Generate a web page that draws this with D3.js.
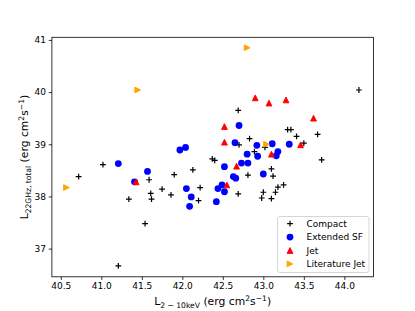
<!DOCTYPE html>
<html>
<head>
<meta charset="utf-8">
<script src="https://cdn.jsdelivr.net/npm/d3@7"></script>
<style>
  html, body { margin: 0; padding: 0; background: #fff; }
  text { font-family: "DejaVu Sans", sans-serif; }
</style>
</head>
<body>
<div id="chart"></div>
<script>
// Values
const compactX = [40.72, 41.02, 41.21, 41.34, 41.54, 41.59, 41.61, 41.62, 41.75, 41.86,
  41.90, 42.13, 42.22, 42.20, 42.37, 42.40, 42.69, 42.70, 42.69, 42.81,
  42.83, 42.89, 43.02, 42.98, 43.00, 43.10, 43.12, 43.10, 43.15, 43.18,
  43.25, 43.30, 43.34, 43.41, 43.50, 43.67, 43.72, 44.18];
const compactY = [38.38, 38.61, 36.67, 37.95, 37.48, 38.32, 38.06, 37.95, 38.14, 38.03,
  38.42, 38.51, 38.17, 37.92, 38.72, 38.69, 39.65, 38.99, 38.05, 38.41,
  39.11, 38.86, 38.94, 37.97, 38.08, 38.53, 38.39, 37.96, 38.08, 38.18,
  38.22, 39.28, 39.28, 39.15, 39.02, 39.19, 38.70, 40.04];

const extX = [41.21, 41.57, 41.41, 41.97, 42.04, 42.05, 42.11, 42.09, 42.42, 42.44,
  42.49, 42.52, 42.52, 42.63, 42.66, 42.73, 42.81, 43.00, 42.65, 42.70,
  42.80, 42.92, 42.93, 43.11, 43.18, 43.16, 43.32];
const extY = [38.63, 38.48, 38.28, 38.89, 38.94, 38.15, 37.99, 37.81, 37.90, 38.15,
  38.22, 38.09, 38.57, 38.38, 38.35, 38.64, 38.64, 38.43, 39.03, 39.36,
  38.81, 38.98, 38.77, 39.01, 38.86, 38.78, 39.00];

const jetX = [42.90, 43.07, 43.28, 43.62, 42.52, 42.52, 43.46, 43.10, 42.67, 42.55, 41.43];
const jetY = [39.89, 39.79, 39.85, 39.50, 39.34, 39.04, 38.99, 38.81, 38.58, 38.22, 38.28];

const litX = [40.57, 41.45, 42.80, 43.04];
const litY = [38.17, 40.04, 40.85, 39.00];

const xTicks = [40.5, 41.0, 41.5, 42.0, 42.5, 43.0, 43.5, 44.0];
const yTicks = [37, 38, 39, 40, 41];
const seriesNames = ['Compact', 'Extended SF', 'Jet', 'Literature Jet'];

const width = 415, height = 311;
const margin = { left: 51.9, right: 41.5, top: 37.3, bottom: 34.2 };

const svg = d3.select('#chart').append('svg')
  .attr('width', width)
  .attr('height', height);

const x = d3.scaleLinear().domain([40.39, 44.36]).range([margin.left, width - margin.right]);
const y = d3.scaleLinear().domain([36.46, 41.05]).range([height - margin.bottom, margin.top]);

// marker shapes
const h = 2.9;
const shapes = {
  plus: `M${-h},0H${h}M0,${-h}V${h}`,
  up: `M0,${-h}L${h},${h}L${-h},${h}Z`,
  right: `M${h},0L${-h},${h}L${-h},${-h}Z`
};

const series = [
  { xs: compactX, ys: compactY, shape: 'plus', color: '#000' },
  { xs: extX, ys: extY, shape: 'circle', color: '#0000ff' },
  { xs: jetX, ys: jetY, shape: 'up', color: '#ff0000' },
  { xs: litX, ys: litY, shape: 'right', color: '#ffa500' }
];

function drawMarker(sel, s) {
  if (s.shape === 'circle') {
    sel.append('circle').attr('r', 3.4).attr('fill', s.color);
  } else if (s.shape === 'plus') {
    sel.append('path').attr('d', shapes.plus)
      .attr('stroke', s.color).attr('stroke-width', 1.2).attr('fill', 'none');
  } else {
    sel.append('path').attr('d', shapes[s.shape])
      .attr('fill', s.color).attr('stroke', s.color).attr('stroke-width', 0.9)
      .attr('stroke-linejoin', 'miter');
  }
}

const plot = svg.append('g');
series.forEach(s => {
  plot.append('g').selectAll('g')
    .data(d3.zip(s.xs, s.ys))
    .join('g')
    .attr('transform', d => `translate(${x(d[0])},${y(d[1])})`)
    .each(function () { drawMarker(d3.select(this), s); });
});

// axes
const xAxis = svg.append('g')
  .attr('transform', `translate(0,${height - margin.bottom})`)
  .call(d3.axisBottom(x).tickValues(xTicks).tickFormat(d3.format('.1f')).tickSize(3.15).tickPadding(2.5));
const yAxis = svg.append('g')
  .attr('transform', `translate(${margin.left},0)`)
  .call(d3.axisLeft(y).tickValues(yTicks).tickFormat(d3.format('d')).tickSize(3.15).tickPadding(2.8));
[xAxis, yAxis].forEach(a => {
  a.select('.domain').remove();
  a.selectAll('line').attr('stroke', '#000').attr('stroke-width', 0.8);
  a.selectAll('text').attr('font-size', 9).attr('fill', '#000')
    .attr('font-family', '"DejaVu Sans", sans-serif');
});

// frame
svg.append('rect')
  .attr('x', margin.left).attr('y', margin.top)
  .attr('width', width - margin.left - margin.right)
  .attr('height', height - margin.top - margin.bottom)
  .attr('fill', 'none').attr('stroke', '#000').attr('stroke-width', 0.8);

// axis labels
function label(textSel, parts) {
  parts.forEach(p => {
    const t = textSel.append('tspan').text(p.t);
    if (p.s === 'sub') t.attr('font-size', 7.6).attr('dy', 2.6);
    if (p.s === 'sup') t.attr('font-size', 7.6).attr('dy', -4.2);
    if (p.dy) t.attr('dy', p.dy);
  });
}

const xl = svg.append('text')
  .attr('x', (margin.left + width - margin.right) / 2)
  .attr('y', 305)
  .attr('text-anchor', 'middle')
  .attr('font-size', 10.8);
label(xl, [
  { t: 'L' }, { t: '2 − 10keV', s: 'sub' }, { t: ' (erg cm', dy: -2.6 },
  { t: '2', s: 'sup' }, { t: 's', dy: 4.2 }, { t: '−1', s: 'sup' }, { t: ')', dy: 4.2 }
]);

const yl = svg.append('text')
  .attr('transform', `translate(28,${(margin.top + height - margin.bottom) / 2}) rotate(-90)`)
  .attr('text-anchor', 'middle')
  .attr('font-size', 10.8);
label(yl, [
  { t: 'L' }, { t: '22GHz, total', s: 'sub' }, { t: ' (erg cm', dy: -2.6 },
  { t: '2', s: 'sup' }, { t: 's', dy: 4.2 }, { t: '−1', s: 'sup' }, { t: ')', dy: 4.2 }
]);

// legend
const legend = svg.append('g').attr('transform', 'translate(277.5,216.5)');
legend.append('rect')
  .attr('width', 91.5).attr('height', 56)
  .attr('rx', 2.5)
  .attr('fill', '#fff').attr('fill-opacity', 0.8)
  .attr('stroke', '#cccccc').attr('stroke-width', 0.8);
series.forEach((s, i) => {
  const row = legend.append('g').attr('transform', `translate(0,${7.2 + i * 13.4})`);
  const m = row.append('g').attr('transform', 'translate(12.5,0)');
  drawMarker(m, s);
  row.append('text')
    .attr('x', 29).attr('y', 0).attr('dy', '0.35em')
    .attr('font-size', 9)
    .text(seriesNames[i]);
});
</script>
</body>
</html>
